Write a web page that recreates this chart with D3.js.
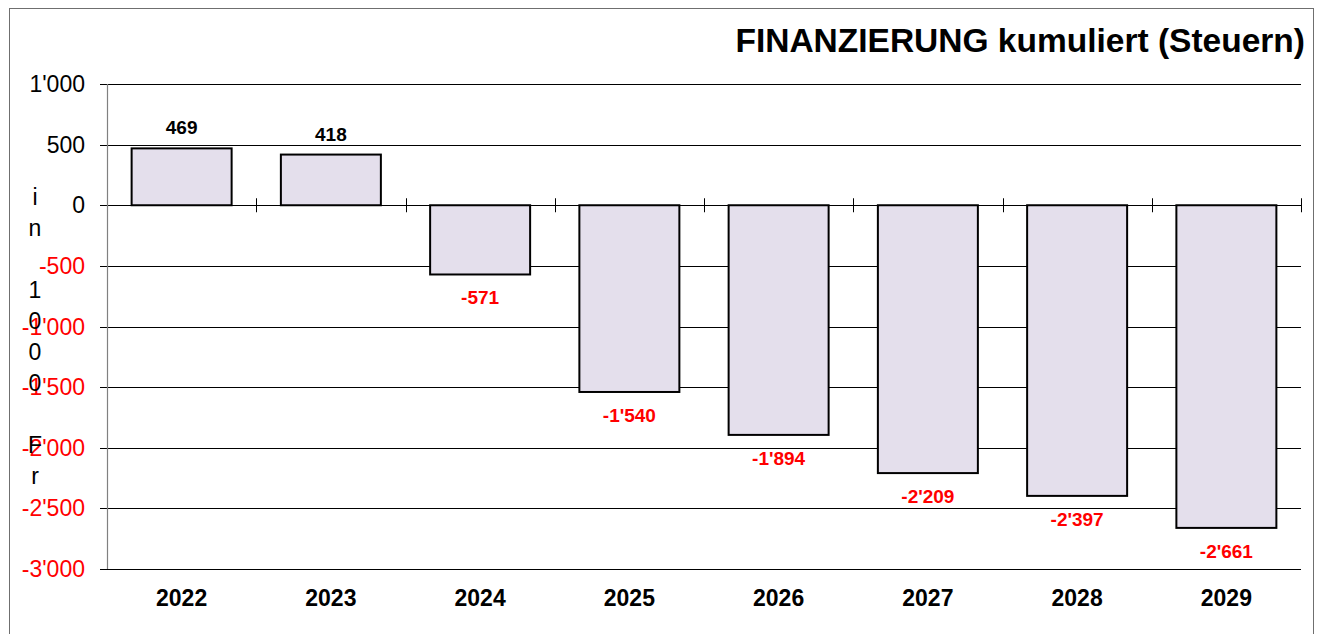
<!DOCTYPE html>
<html><head><meta charset="utf-8">
<script src="https://cdn.jsdelivr.net/npm/d3@7"></script>
<style>body{margin:0;background:#fff}svg{display:block;font-family:"Liberation Sans",Arial,sans-serif}</style>
</head><body>
<svg id="c" width="1320" height="634"></svg>
<script>
const years = ["2022","2023","2024","2025","2026","2027","2028","2029"];
const values = [469, 418, -571, -1540, -1894, -2209, -2397, -2661];
const yTicks = [1000, 500, 0, -500, -1000, -1500, -2000, -2500, -3000];
const titleText = "FINANZIERUNG kumuliert (Steuern)";
const axisTitle = "in 1000 Fr";

(function () {
const svg = d3.select("#c");
const pLeft = 107, pRight = 1301, pTop = 84, pBottom = 569;

// outer frame
svg.append("rect").attr("x", 9.5).attr("y", 8.5).attr("width", 1304).attr("height", 640)
  .attr("fill", "none").attr("stroke", "#6f6f6f").attr("stroke-width", 1);

const x = d3.scaleBand().domain(years).range([pLeft, pRight]).paddingInner(0.33).paddingOuter(0.165);
const xb = d3.scaleBand().domain(years).range([pLeft, pRight]);
const y = d3.scaleLinear().domain([-3000, 1000]).range([pBottom, pTop]);
const fmt = v => d3.format(",")(v).replace(/,/g, "'").replace(/\u2212/g, "-");

// gridlines
svg.append("g").selectAll("line").data(yTicks).join("line")
  .attr("x1", pLeft - 7).attr("x2", pRight)
  .attr("y1", d => Math.round(y(d)) + 0.5).attr("y2", d => Math.round(y(d)) + 0.5)
  .attr("stroke", "#000").attr("stroke-width", 1);

// y axis line
svg.append("line").attr("x1", pLeft + 0.5).attr("x2", pLeft + 0.5)
  .attr("y1", y(1000)).attr("y2", y(-3000)).attr("stroke", "#808080").attr("stroke-width", 1.2);

// y tick labels
svg.append("g").selectAll("text").data(yTicks).join("text")
  .attr("x", 85).attr("y", d => y(d) + 8)
  .attr("text-anchor", "end").attr("font-size", 23)
  .attr("fill", d => d < 0 ? "#ff0000" : "#000")
  .text(d => fmt(d));

// x axis tick marks at band boundaries
const bounds = years.slice(1).map(d => xb(d)).concat([pRight]);
svg.append("g").selectAll("line").data(bounds).join("line")
  .attr("x1", d => Math.round(d) + 0.5).attr("x2", d => Math.round(d) + 0.5)
  .attr("y1", y(0) - 7).attr("y2", y(0) + 7)
  .attr("stroke", "#000").attr("stroke-width", 1);

// bars
svg.append("g").selectAll("rect").data(values).join("rect")
  .attr("x", (d, i) => x(years[i]))
  .attr("width", x.bandwidth())
  .attr("y", d => y(Math.max(0, d)))
  .attr("height", d => Math.abs(y(d) - y(0)))
  .attr("fill", "#e4dfec").attr("stroke", "#000").attr("stroke-width", 2);

// value labels
svg.append("g").selectAll("text").data(values).join("text")
  .attr("x", (d, i) => x(years[i]) + x.bandwidth() / 2)
  .attr("y", d => d >= 0 ? y(d) - 14 : y(d) + 30)
  .attr("text-anchor", "middle").attr("font-size", 19).attr("font-weight", "bold")
  .attr("fill", d => d < 0 ? "#ff0000" : "#000")
  .text(d => fmt(d));

// year labels
svg.append("g").selectAll("text").data(years).join("text")
  .attr("x", d => xb(d) + xb.bandwidth() / 2).attr("y", 606)
  .attr("text-anchor", "middle").attr("font-size", 23).attr("font-weight", "bold")
  .text(d => d);

// title
svg.append("text").attr("x", 1305).attr("y", 52).attr("text-anchor", "end")
  .attr("font-size", 33.5).attr("font-weight", "bold").text(titleText);

// vertical axis title, stacked characters
svg.append("g").selectAll("text").data(axisTitle.split("")).join("text")
  .attr("x", 35).attr("y", (d, i) => 205 + i * 31)
  .attr("text-anchor", "middle").attr("font-size", 23).attr("fill", "#000")
  .text(d => d);
})();
</script>
</body></html>
